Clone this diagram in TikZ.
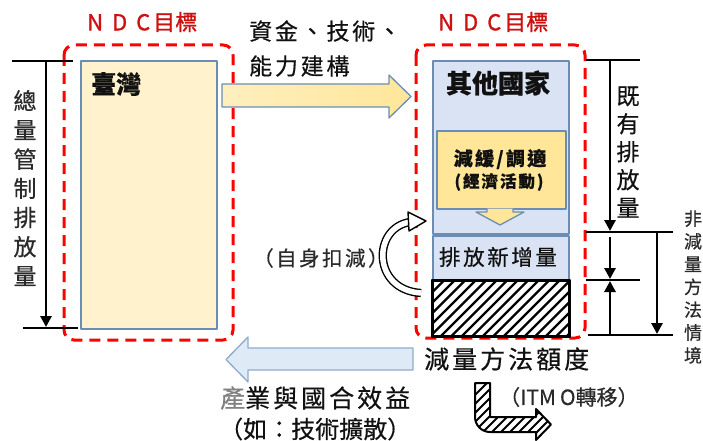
\documentclass[tikz,border=0pt]{standalone}
\usepackage{fontspec}
\setmainfont{Noto Sans CJK TC}[FakeBold=0.5]
\newfontfamily\cjksp[LetterSpace=12,FakeBold=0.5]{Noto Sans CJK TC}
\newfontfamily\cjkred[FakeBold=1.2]{Noto Sans CJK TC}
\usetikzlibrary{arrows.meta}
\definecolor{ndcred}{HTML}{FF0000}
\definecolor{ndctxt}{HTML}{CC1111}
\definecolor{boxblue}{HTML}{6A8DB5}
\definecolor{twfill}{HTML}{FFF2CC}
\definecolor{otfill}{HTML}{DAE3F3}
\definecolor{ylfill}{HTML}{FFE699}
\definecolor{ylpale}{HTML}{FFEFBE}
\definecolor{bluefill}{HTML}{DEEBF7}
\definecolor{bluedge}{HTML}{8FAACC}
\definecolor{txtdark}{HTML}{111111}
\definecolor{txtgray}{HTML}{2A2A2A}
\tikzset{
  ndcbox/.style={draw=ndcred, line width=3pt, dash pattern=on 11pt off 7pt, rounded corners=10pt},
  bbox/.style={draw=boxblue, line width=1.6pt, inner sep=0pt},
  dimline/.style={line width=2.8pt},
  dimarrow/.style={line width=2.8pt, -{Triangle[width=11pt,length=11pt]}},
  lbl/.style={inner sep=0pt, text=txtdark},
  ndclbl/.style={inner sep=0pt, text=ndctxt, anchor=west, font=\fontsize{22}{24}\selectfont\cjkred},
  hatchline/.style={line width=2.3pt, line cap=butt}
}
\begin{document}
\begin{tikzpicture}[x=1pt,y=-1pt,line join=round]
\useasboundingbox (0,0) rectangle (703,441);

% ---- left group ----
\draw[ndcbox] (64,45) rectangle (233,340);
\node[ndclbl] (ndcl) at (87,22) {N\kern9pt D\kern9pt C\kern3pt 目標};
\node[bbox, fill=twfill, minimum width=136pt, minimum height=268pt, anchor=north west] (tw) at (80,60) {};
\node[lbl, anchor=west, font=\fontsize{25}{27}\selectfont\bfseries] (twl) at (91,84) {臺灣};

% left dimension
\coordinate (lt1) at (12,61); \coordinate (lt2) at (73,61);
\coordinate (lb1) at (23,328); \coordinate (lb2) at (78,328);
\coordinate (lv1) at (46,61); \coordinate (lv2) at (46,327);
\draw[dimline] (lt1) -- (lt2);
\draw[dimline] (lb1) -- (lb2);
\draw[dimarrow] (lv1) -- (lv2);
\node[lbl, text=txtgray, align=center, font=\fontsize{23}{29.2}\selectfont] (zl) at (25,188) {總\\量\\管\\制\\排\\放\\量};

% ---- right group ----
\draw[ndcbox] (416,45) rectangle (585,338);
\node[ndclbl] (ndcr) at (438,22) {N\kern9pt D\kern9pt C\kern3pt 目標};
\node[bbox, fill=otfill, minimum width=136pt, minimum height=173pt, anchor=north west] (ot) at (432,60) {};
\node[lbl, font=\fontsize{26}{28}\selectfont\bfseries] (otl) at (498,83) {其他國家};
\node[bbox, fill=ylfill, minimum width=129pt, minimum height=78pt, anchor=north west] (mit) at (436,130) {};
\node[lbl, font=\fontsize{19}{21}\selectfont\bfseries\cjksp] (mitl1) at (500,159) {減緩/調適};
\node[lbl, font=\fontsize{16.5}{18}\selectfont\bfseries\cjksp] (mitl2) at (499,182) {(經濟活動)};
\draw[draw=boxblue, line width=1.3pt, fill=ylfill] (487,208.5) -- (487,212) -- (476,212) -- (500,225) -- (524,212) -- (513,212) -- (513,208.5);
\node[bbox, fill=otfill, minimum width=136pt, minimum height=45pt, anchor=north west] (nw) at (432,235) {};
\node[lbl, font=\fontsize{21.5}{23}\selectfont\cjksp] (nwl) at (498,257) {排放新增量};
\node[draw=black, line width=2pt, inner sep=0pt, minimum width=136pt, minimum height=55pt, anchor=north west] (hb) at (432,280) {};
\begin{scope}
  \clip (hb.south west) rectangle (hb.north east);
  \foreach \i in {0,...,20} { \draw[hatchline] (372+\i*10.5,342) -- ++(70,-70); }
\end{scope}
\draw[line width=2pt] (hb.south west) rectangle (hb.north east);

% right dimensions
\coordinate (r1a) at (586,60);  \coordinate (r1b) at (640,60);
\coordinate (r2a) at (586,232); \coordinate (r2b) at (673,232);
\coordinate (r3a) at (586,280); \coordinate (r3b) at (640,280);
\coordinate (r4a) at (588,335); \coordinate (r4b) at (673,335);
\draw[dimline] (r1a) -- (r1b);
\draw[dimline] (r2a) -- (r2b);
\draw[dimline] (r3a) -- (r3b);
\draw[dimline] (r4a) -- (r4b);
\coordinate (v1a) at (610,60);  \coordinate (v1b) at (610,231);
\coordinate (v2a) at (610,237); \coordinate (v2b) at (610,279);
\coordinate (v3a) at (610,335); \coordinate (v3b) at (610,281);
\coordinate (v4a) at (657,232); \coordinate (v4b) at (657,334);
\draw[dimarrow] (v1a) -- (v1b);
\draw[dimarrow] (v2a) -- (v2b);
\draw[dimarrow] (v3a) -- (v3b);
\draw[dimarrow] (v4a) -- (v4b);
\node[lbl, align=center, font=\fontsize{23}{28}\selectfont] (ex) at (628,152) {既\\有\\排\\放\\量};
\node[lbl, text=txtgray, align=center, font=\fontsize{18}{22.8}\selectfont] (nm) at (693,287) {非\\減\\量\\方\\法\\情\\境};

% ---- top yellow arrow ----
\path[left color=ylpale, right color=ylfill] (222,84) -- (389,84) -- (389,75) -- (411,96.5) -- (389,118) -- (389,107) -- (222,107) -- cycle;
\draw[draw=boxblue, line width=1.3pt] (222,84) -- (389,84) -- (389,75) -- (411,96.5) -- (389,118) -- (389,107) -- (222,107) -- cycle;
\node[lbl, anchor=west, font=\fontsize{23}{25}\selectfont\cjksp] (t1) at (249,31) {資金、技術、};
\node[lbl, anchor=west, font=\fontsize{23}{25}\selectfont\cjksp] (t2) at (249,66) {能力建構};

% ---- curved arrow ----
\draw[line width=1.4pt, double=white, double distance=5.5pt] (421,293) .. controls (372,290) and (372,228) .. (410,222);
\draw[line width=1.4pt, fill=white] (408,212) -- (426,221) -- (409,231) -- cycle;
\node[lbl, text=txtgray, anchor=west, font=\fontsize{20.5}{22}\selectfont\cjksp] (self) at (253,258) {（自身扣減）};

% ---- bottom blue arrow ----
\draw[draw=bluedge, fill=bluefill, line width=1.3pt] (413,348) -- (248,348) -- (248,337) -- (226,359.5) -- (248,382) -- (248,370) -- (413,370) -- cycle;
\node[lbl, anchor=west, font=\fontsize{25}{27}\selectfont\cjksp] (qt) at (424,359) {減量方法額度};
\node[lbl, anchor=west, font=\fontsize{25}{27}\selectfont\cjksp] (ben1) at (220,398) {{\color{gray}產}業與國合效益};
\node[lbl, anchor=west, font=\fontsize{24}{26}\selectfont] (ben2) at (219,429) {（如：技術擴散）};
\node[lbl, text=txtgray, anchor=west, font=\fontsize{21}{23}\selectfont] (itmo) at (499,397) {（ITM\kern4pt O轉移）};

% ---- bent hatched arrow ----
\def\bentpath{(475,383) -- (475,417) arc[start angle=180, end angle=90, radius=15] -- (536,432) -- (536,440) -- (551,424.5) -- (536,409) -- (536,417) -- (490,417) -- (490,383) -- cycle}
\fill[white] \bentpath;
\begin{scope}
  \clip \bentpath;
  \foreach \i in {0,...,16} { \draw[line width=2pt] (420+\i*9,450) -- ++(80,-80); }
\end{scope}
\draw[line width=2pt] \bentpath;
\end{tikzpicture}
\end{document}
